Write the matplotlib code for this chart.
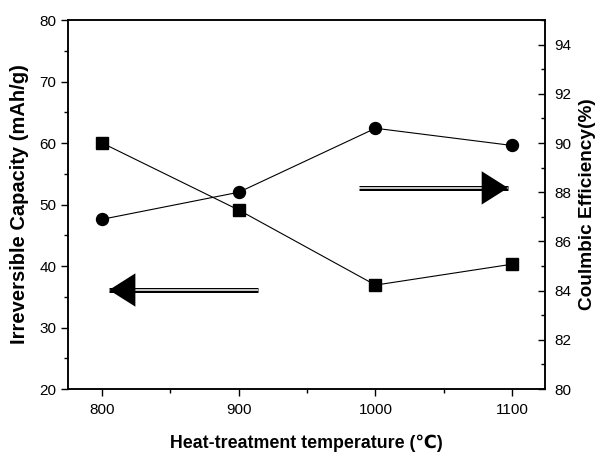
import matplotlib
matplotlib.use("Agg")
import matplotlib.pyplot as plt
from matplotlib.ticker import MultipleLocator

plt.rcParams['font.family'] = ['Liberation Sans', 'DejaVu Sans']

# data
temps = [800, 900, 1000, 1100]
irr_capacity = [60.0, 49.1, 36.9, 40.3]      # left axis, mAh/g
coulombic_eff = [86.9, 88.0, 90.6, 89.9]     # right axis, %

# arrow annotations (data coords of the left axis)
left_arrow = {'tail': (914, 36.1), 'tip': (805, 36.1)}
right_arrow = {'tail': (988, 52.7), 'tip': (1097, 52.7)}

fig = plt.figure(figsize=(5.99, 4.55), dpi=100)
ax = fig.add_axes([0.1135, 0.145, 0.7963, 0.811])
ax2 = ax.twinx()

ax.plot(temps, irr_capacity, color='k', lw=0.8, marker='s', ms=8.4, zorder=3)
ax2.plot(temps, coulombic_eff, color='k', lw=0.8, marker='o', ms=8.6, zorder=3)

ax.set_xlim(775, 1124)
ax.set_ylim(20, 80)
ax2.set_ylim(80, 95)

ax.xaxis.set_major_locator(MultipleLocator(100))
ax.xaxis.set_minor_locator(MultipleLocator(50))
ax.yaxis.set_major_locator(MultipleLocator(10))
ax.yaxis.set_minor_locator(MultipleLocator(5))
ax2.yaxis.set_minor_locator(MultipleLocator(1))
ax2.set_yticks([80, 82, 84, 86, 88, 90, 92, 94])

ax.tick_params(axis='both', which='major', direction='out', length=5, width=1.0, labelsize=11)
ax.tick_params(axis='both', which='minor', direction='out', length=3, width=1.0)
ax.tick_params(axis='x', pad=5)
ax2.tick_params(axis='y', which='major', direction='in', length=5, width=1.0, labelsize=11, pad=7)
ax2.tick_params(axis='y', which='minor', direction='in', length=3, width=1.0)

for a in (ax, ax2):
    for s in a.spines.values():
        s.set_linewidth(1.1)

ax.set_xlabel('Heat-treatment temperature (\u2103)', fontsize=12.8, fontweight='bold', labelpad=13)
ax.set_ylabel('Irreversible Capacity (mAh/g)', fontsize=14.5, fontweight='bold', labelpad=7)
ax2.set_ylabel('Coulmbic Efficiency(%)', fontsize=13.7, fontweight='bold', labelpad=5)

# double-line arrows
for arr in (left_arrow, right_arrow):
    (x0, y0), (x1, y1) = arr['tail'], arr['tip']
    ax.plot([x0, x1], [y0, y1], color='k', lw=3.6, solid_capstyle='butt', zorder=4)
    ax.plot([x0, x1], [y0, y1], color='white', lw=1.1, solid_capstyle='butt', zorder=5)
    hx = x1 - 18 if x1 > x0 else x1 + 18
    ax.annotate('', xy=(x1, y1), xytext=(hx, y1),
                arrowprops=dict(arrowstyle='-|>,head_length=1.9,head_width=1.2',
                                mutation_scale=10, lw=0, fc='k', ec='k',
                                shrinkA=0, shrinkB=0),
                zorder=6)

fig.savefig('out.png', dpi=100)
